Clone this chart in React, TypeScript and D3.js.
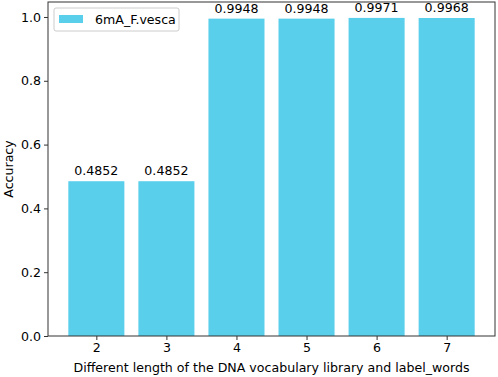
import React, { useEffect, useRef } from "react";
import * as d3 from "d3";

// data
const lengths = [2, 3, 4, 5, 6, 7];
const accuracy = [0.4852, 0.4852, 0.9948, 0.9948, 0.9971, 0.9968];
const yTicks = [0, 0.2, 0.4, 0.6, 0.8, 1.0];
const seriesName = "6mA_F.vesca";

const drawChart = (svgEl: SVGSVGElement) => {
  const width = 498;
  const height = 377;
  const margin = { top: 2, right: 3, bottom: 41, left: 48 };
  const barColor = "#5acfec";
  const font = "DejaVu Sans, sans-serif";
  const fontSize = "12.6px";

  const svg = d3.select(svgEl);
  svg.selectAll("*").remove();

  // matplotlib style: bars of width 0.8, 5% padding on both axes
  const xMin = lengths[0] - 0.4;
  const xMax = lengths[lengths.length - 1] + 0.4;
  const xPad = (xMax - xMin) * 0.05;
  const xScale = d3
    .scaleLinear()
    .domain([xMin - xPad, xMax + xPad])
    .range([margin.left, width - margin.right]);

  const yMax = d3.max(accuracy)! * 1.05;
  const yScale = d3
    .scaleLinear()
    .domain([0, yMax])
    .range([height - margin.bottom, margin.top]);

  // bars
  svg
    .selectAll("rect.bar")
    .data(lengths)
    .enter()
    .append("rect")
    .attr("class", "bar")
    .attr("x", (d) => xScale(d - 0.4))
    .attr("width", (d) => xScale(d + 0.4) - xScale(d - 0.4))
    .attr("y", (d, i) => yScale(accuracy[i]))
    .attr("height", (d, i) => yScale(0) - yScale(accuracy[i]))
    .attr("fill", barColor);

  // value labels
  svg
    .selectAll("text.value")
    .data(lengths)
    .enter()
    .append("text")
    .attr("class", "value")
    .attr("x", (d) => xScale(d))
    .attr("y", (d, i) => yScale(accuracy[i]) - 6)
    .attr("text-anchor", "middle")
    .style("font-family", font)
    .style("font-size", fontSize)
    .text((d, i) => accuracy[i].toFixed(4));

  // axes
  const xAxis = d3
    .axisBottom(xScale)
    .tickValues(lengths)
    .tickFormat(d3.format("d"))
    .tickSize(4)
    .tickPadding(3);
  const yAxis = d3
    .axisLeft(yScale)
    .tickValues(yTicks)
    .tickFormat(d3.format(".1f"))
    .tickSize(4)
    .tickPadding(3);

  const gx = svg
    .append("g")
    .attr("transform", `translate(0, ${height - margin.bottom})`)
    .call(xAxis);
  const gy = svg.append("g").attr("transform", `translate(${margin.left}, 0)`).call(yAxis);

  [gx, gy].forEach((g) => {
    g.select(".domain").remove();
    g.selectAll("text")
      .style("font-family", font)
      .style("font-size", fontSize)
      .attr("fill", "#000");
    g.selectAll("line").attr("stroke", "#333");
  });

  // frame
  svg
    .append("rect")
    .attr("x", margin.left)
    .attr("y", margin.top)
    .attr("width", width - margin.left - margin.right)
    .attr("height", height - margin.top - margin.bottom)
    .attr("fill", "none")
    .attr("stroke", "#333")
    .attr("stroke-width", 1);

  // axis labels
  svg
    .append("text")
    .attr("x", (margin.left + width - margin.right) / 2)
    .attr("y", height - 5)
    .attr("text-anchor", "middle")
    .style("font-family", font)
    .style("font-size", fontSize)
    .text("Different length of the DNA vocabulary library and label_words");

  svg
    .append("text")
    .attr("transform", "rotate(-90)")
    .attr("x", -(margin.top + height - margin.bottom) / 2)
    .attr("y", 13)
    .attr("text-anchor", "middle")
    .style("font-family", font)
    .style("font-size", fontSize)
    .text("Accuracy");

  // legend
  const legend = svg.append("g").attr("transform", `translate(${margin.left + 6}, ${margin.top + 6})`);
  legend
    .append("rect")
    .attr("width", 125)
    .attr("height", 23)
    .attr("rx", 2)
    .attr("fill", "#fff")
    .attr("fill-opacity", 0.8)
    .attr("stroke", "#ccc");
  legend
    .append("rect")
    .attr("x", 5)
    .attr("y", 7)
    .attr("width", 24)
    .attr("height", 8)
    .attr("fill", barColor);
  legend
    .append("text")
    .attr("x", 41)
    .attr("y", 16)
    .style("font-family", font)
    .style("font-size", fontSize)
    .text(seriesName);
};

const App = () => {
  const svgRef = useRef<SVGSVGElement>(null);

  useEffect(() => {
    if (svgRef.current) drawChart(svgRef.current);
  }, []);

  return (
    <svg
      ref={svgRef}
      width="498"
      height="377"
      style={{ position: "absolute", left: 0, top: 0, background: "#fff" }}
    ></svg>
  );
};

export default App;
